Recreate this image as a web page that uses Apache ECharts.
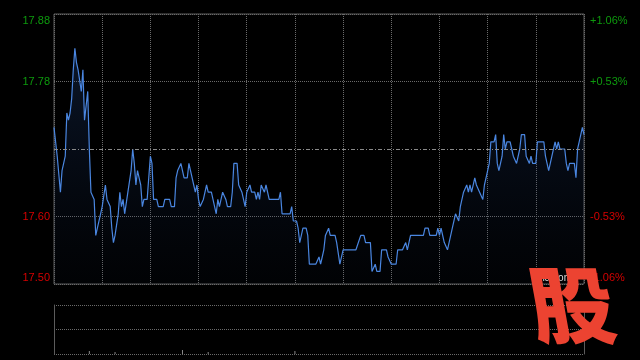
<!DOCTYPE html>
<html>
<head>
<meta charset="utf-8">
<script src="https://cdn.jsdelivr.net/npm/echarts@6/dist/echarts.min.js"></script>
<style>html,body{margin:0;padding:0;background:#000;}#c{width:640px;height:360px;}</style>
</head>
<body>
<div id="c"></div>
<script>
// ---- data ----
var prevClose = 17.69;
var yMin = 17.5025, yMax = 17.8775, yStep = 0.09375;
var leftLabels = ['17.50', '17.60', '', '17.78', '17.88'];
var rightLabels = ['-1.06%', '-0.53%', '', '+0.53%', '+1.06%'];
var minutes = [0,2,4,5,6,7,8,9,10,11,12,13,14,15,16,17,18,19,20,21,22,23,24,25,26,27,28,29,30,31,32,33,34,35,36,37,38,39,40,41,42,43,44,45,46,47,48,49,50,51,52,53,54,55,56,58,59,60,61,62,64,65,68,69,72,73,75,76,77,78,79,80,81,83,84,85,87,88,89,90,91,92,93,94,95,96,98,99,100,101,102,103,104,105,106,107,108,110,111,112,114,115,116,117,119,120,121,122,123,125,126,127,128,129,130,131,132,133,134,140,141,142,147,148,149,151,152,153,154,155,157,158,159,163,165,166,167,168,169,170,171,172,175,176,177,178,179,180,188,191,193,194,197,198,199,200,201,203,204,207,208,209,210,213,214,217,219,220,221,222,230,231,233,234,238,239,240,241,242,243,244,245,246,247,248,250,251,252,253,255,256,257,258,259,260,261,262,263,264,265,267,268,269,270,271,272,274,275,276,277,278,279,280,281,282,284,285,286,287,288,289,290,291,293,294,295,296,297,298,300,301,305,306,307,308,309,310,311,312,313,314,315,318,319,320,321,324,325,326,327,328,329,330];
var prices = [17.72,17.68,17.63,17.66,17.66,17.68,17.74,17.73,17.74,17.76,17.80,17.83,17.81,17.80,17.80,17.77,17.80,17.73,17.73,17.77,17.69,17.63,17.63,17.62,17.57,17.58,17.58,17.60,17.61,17.61,17.64,17.62,17.62,17.61,17.58,17.56,17.57,17.57,17.60,17.63,17.61,17.62,17.60,17.60,17.63,17.63,17.66,17.69,17.67,17.64,17.66,17.65,17.64,17.61,17.62,17.62,17.65,17.68,17.67,17.62,17.62,17.61,17.61,17.62,17.62,17.61,17.61,17.65,17.66,17.66,17.67,17.67,17.65,17.65,17.67,17.66,17.64,17.63,17.64,17.62,17.61,17.61,17.62,17.62,17.64,17.63,17.63,17.62,17.62,17.60,17.62,17.61,17.61,17.63,17.63,17.62,17.61,17.61,17.63,17.67,17.67,17.64,17.64,17.63,17.61,17.63,17.63,17.64,17.63,17.63,17.62,17.63,17.62,17.64,17.64,17.63,17.64,17.64,17.62,17.62,17.63,17.60,17.60,17.61,17.59,17.59,17.58,17.56,17.56,17.58,17.58,17.57,17.53,17.53,17.54,17.53,17.54,17.55,17.57,17.57,17.58,17.57,17.57,17.56,17.56,17.53,17.53,17.55,17.55,17.57,17.57,17.56,17.56,17.52,17.52,17.53,17.52,17.52,17.55,17.55,17.54,17.54,17.53,17.53,17.55,17.55,17.56,17.55,17.55,17.57,17.57,17.58,17.58,17.57,17.57,17.58,17.57,17.58,17.58,17.56,17.56,17.55,17.55,17.57,17.58,17.60,17.60,17.59,17.61,17.63,17.63,17.64,17.63,17.64,17.63,17.63,17.65,17.64,17.64,17.63,17.62,17.64,17.65,17.65,17.67,17.70,17.70,17.71,17.67,17.66,17.67,17.68,17.71,17.69,17.70,17.70,17.69,17.68,17.68,17.67,17.67,17.69,17.71,17.71,17.68,17.68,17.67,17.68,17.67,17.67,17.70,17.70,17.68,17.68,17.66,17.67,17.68,17.68,17.70,17.69,17.70,17.69,17.69,17.67,17.66,17.67,17.67,17.65,17.69,17.70,17.70,17.72,17.71];
var volMinutes = [22, 38, 80, 96, 150];
var volumes = [6, 4, 8, 4, 6];

var GREEN = '#0d9a0d', RED = '#d60000', GRID = '#6a6a6a', BORDER = '#5c5c5c';

var lineData = minutes.map(function (m, i) { return [m, prices[i]]; });
var volData = volMinutes.map(function (m, i) { return [m, volumes[i]]; });

var labelRich = {
  gt: { color: GREEN, padding: [13, 0, 0, 0] },
  g: { color: GREEN },
  r: { color: RED },
  rb: { color: RED, padding: [0, 0, 13, 0] }
};
function styleKey(i) { return i === 4 ? 'gt' : i === 3 ? 'g' : i === 0 ? 'rb' : 'r'; }

var chart = echarts.init(document.getElementById('c'), null, { renderer: 'canvas' });
chart.setOption({
  backgroundColor: '#000',
  animation: false,
  textStyle: { fontFamily: 'Arial, "Liberation Sans", sans-serif' },
  grid: [
    { left: 54, right: 56, top: 14, height: 270, show: true, borderColor: BORDER, borderWidth: 1, backgroundColor: 'transparent' },
    { left: 54, right: 56, top: 305, height: 49, show: false }
  ],
  xAxis: [
    { type: 'value', gridIndex: 0, min: 0, max: 330, interval: 30,
      axisLine: { show: false }, axisTick: { show: false }, axisLabel: { show: false },
      splitLine: { show: true, lineStyle: { color: GRID, type: 'dotted', width: 1 } } },
    { type: 'value', gridIndex: 1, min: 0, max: 330, interval: 30,
      axisLine: { show: false }, axisTick: { show: false }, axisLabel: { show: false }, splitLine: { show: false } }
  ],
  yAxis: [
    { type: 'value', gridIndex: 0, position: 'left', min: yMin, max: yMax, interval: yStep,
      axisLine: { show: false }, axisTick: { show: false },
      axisLabel: { show: true, fontSize: 11, margin: 4,
        formatter: function (v, i) { return leftLabels[i] ? '{' + styleKey(i) + '|' + leftLabels[i] + '}' : ''; },
        rich: labelRich },
      splitLine: { show: true, lineStyle: { color: [GRID, GRID, 'rgba(0,0,0,0)', GRID, GRID], type: 'dotted', width: 1 } } },
    { type: 'value', gridIndex: 0, position: 'right', min: yMin, max: yMax, interval: yStep,
      axisLine: { show: false }, axisTick: { show: false }, splitLine: { show: false },
      axisLabel: { show: true, fontSize: 11, margin: 6,
        formatter: function (v, i) { return rightLabels[i] ? '{' + styleKey(i) + '|' + rightLabels[i] + '}' : ''; },
        rich: labelRich } },
    { type: 'value', gridIndex: 1, position: 'left', min: 0, max: 100, interval: 50,
      axisLine: { show: true, lineStyle: { color: BORDER } }, axisTick: { show: false }, axisLabel: { show: false },
      splitLine: { show: true, lineStyle: { color: GRID, type: 'dotted' } } },
    { type: 'value', gridIndex: 1, position: 'right', min: 0, max: 100, interval: 50,
      axisLine: { show: true, lineStyle: { color: BORDER } }, axisTick: { show: false }, axisLabel: { show: false },
      splitLine: { show: false } }
  ],
  series: [
    { type: 'line', xAxisIndex: 0, yAxisIndex: 0, data: lineData, showSymbol: false, symbol: 'none',
      lineStyle: { color: '#4a86e0', width: 1.2 },
      areaStyle: { origin: 'start', color: new echarts.graphic.LinearGradient(0, 0, 0, 1, [
        { offset: 0, color: 'rgba(40,80,150,0.40)' },
        { offset: 1, color: 'rgba(20,40,80,0.08)' }]) },
      markLine: { silent: true, symbol: 'none', label: { show: false },
        lineStyle: { color: '#8a8a8a', type: [4, 2, 1, 2], width: 1 },
        data: [{ yAxis: prevClose }] } },
    { type: 'bar', xAxisIndex: 1, yAxisIndex: 2, data: volData, barWidth: 1,
      itemStyle: { color: '#8a8a8a' } }
  ],
  graphic: [
    { type: 'text', x: 532, y: 273, z: 50, style: { text: 'sina.com', fill: '#dddddd', font: '10px Arial' } },
    { type: 'text', x: 572, y: 305, z: 100, skewX: 0.18,
      style: { text: '股', fill: '#ec4331', font: '900 84px "Noto Sans CJK SC"', textAlign: 'center', textVerticalAlign: 'middle' } }
  ]
});
</script>
</body>
</html>
